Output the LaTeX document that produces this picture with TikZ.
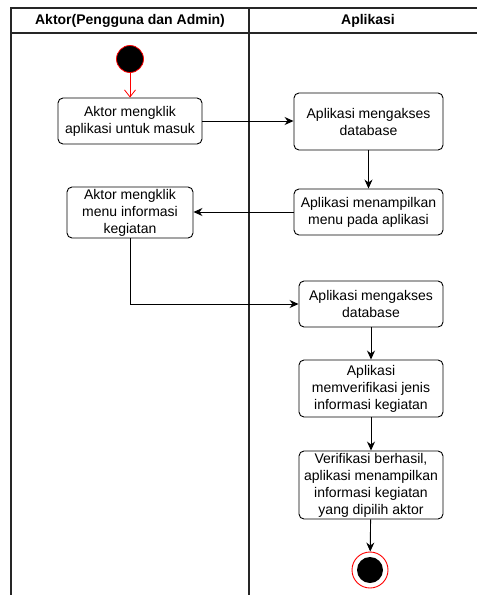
\documentclass[tikz,border=0pt]{standalone}
\usepackage{fontspec}
\setmainfont{Liberation Sans}
\usetikzlibrary{arrows.meta,calc}

\begin{document}
\begin{tikzpicture}[x=1pt,y=-1pt,
    lane/.style={line width=1.2pt,black!85},
    act/.style={draw,rounded corners=5pt,line width=0.9pt,align=center,
        inner sep=0pt,font=\fontsize{14}{17}\selectfont},
    flow/.style={line width=0.9pt,-{Stealth[length=9pt,width=8pt]}},
    head/.style={font=\fontsize{14}{17}\selectfont\bfseries}]
    \useasboundingbox (0,0) rectangle (477,595);

    % Swimlanes
    \draw[lane] (477,8) -- (11,8) -- (11,595);
    \draw[lane] (11,33) -- (477,33);
    \draw[lane] (249,8) -- (249,595);
    \node[head] (laneA) at (130,21) {Aktor(Pengguna dan Admin)};
    \node[head] (laneB) at (368,21) {Aplikasi};

    % Start
    \node[circle,fill=black,draw=red,line width=0.8pt,minimum size=27pt,inner sep=0pt] (start) at (130,59) {};

    % Actor side
    \node[act,minimum width=144pt,minimum height=46pt] (klik) at (130,121) {Aktor mengklik\\aplikasi untuk masuk};
    \node[act,minimum width=126pt,minimum height=51pt] (menu) at (130,212.5) {Aktor mengklik\\menu informasi\\kegiatan};

    % Application side
    \node[act,minimum width=149pt,minimum height=57pt] (akses1) at (368.5,121.5) {Aplikasi mengakses\\database};
    \node[act,minimum width=149pt,minimum height=46pt] (tampil) at (368.5,212) {Aplikasi menampilkan\\menu pada aplikasi};
    \node[act,minimum width=144pt,minimum height=46pt] (akses2) at (371,304) {Aplikasi mengakses\\database};
    \node[act,minimum width=144pt,minimum height=57pt] (verif) at (371,388.5) {Aplikasi\\memverifikasi jenis\\informasi kegiatan};
    \node[act,minimum width=144pt,minimum height=68pt] (hasil) at (371,485) {Verifikasi berhasil,\\aplikasi menampilkan\\informasi kegiatan\\yang dipilih aktor};

    % End
    \node[circle,draw=red,fill=white,line width=0.9pt,minimum size=36pt,inner sep=0pt] (end) at (370,570) {};
    \fill[black] (end.center) circle (13pt);

    % Flows
    \draw[red,line width=0.8pt,-{Straight Barb[length=7pt,width=11pt]}] (start) -- (klik);
    \draw[flow] (klik.east) -- (klik.east -| akses1.west);
    \draw[flow] (akses1) -- (tampil);
    \draw[flow] (tampil.west) -- (tampil.west -| menu.east);
    \draw[flow] (menu.south) |- (akses2.west);
    \draw[flow] (akses2) -- (verif);
    \draw[flow] (verif) -- (hasil);
    \draw[flow] (hasil) -- (end);

\end{tikzpicture}
\end{document}
